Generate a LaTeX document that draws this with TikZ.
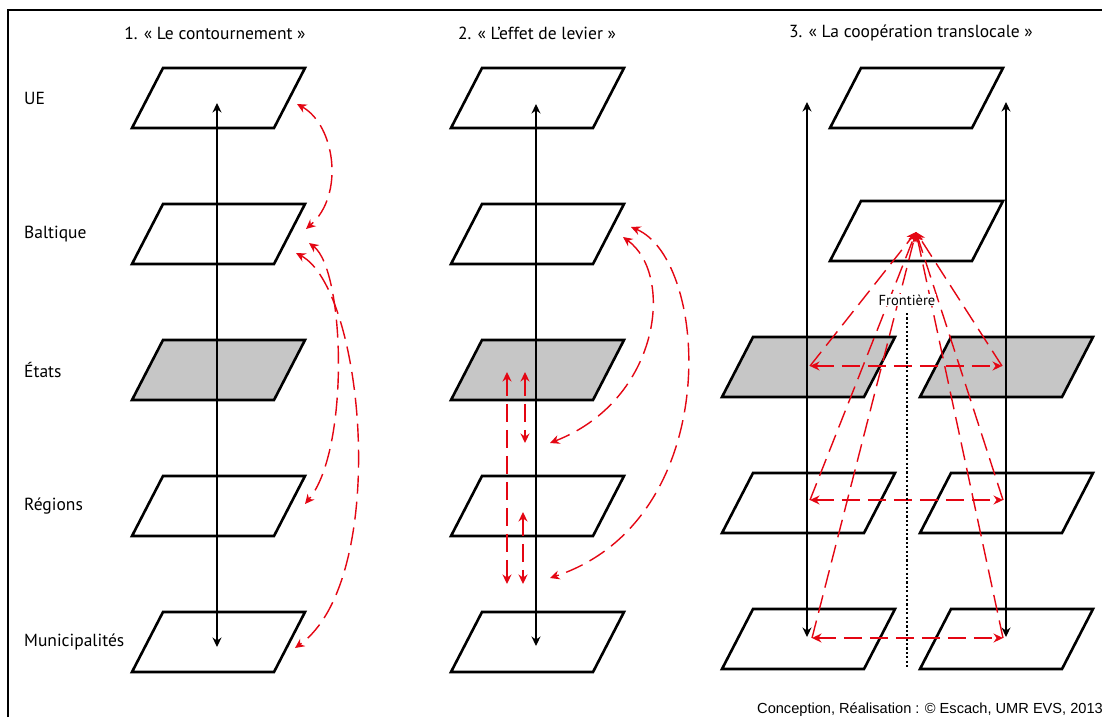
\documentclass[tikz,border=0pt]{standalone}
\usepackage{fontspec}
\setmainfont{PT Sans}
\newfontfamily\creditfont{Liberation Sans}
\usetikzlibrary{arrows.meta}
\definecolor{redc}{RGB}{228,6,19}
\definecolor{greyc}{RGB}{198,198,198}
\newcommand\lvlplane[4]{%
  \draw[plane,fill=#4] (#2,#3+60) -- (#2+31,#3) -- (#2+173,#3) -- (#2+142,#3+60) -- cycle;
  \coordinate (#1) at (#2+86.5,#3+30);}
\begin{document}
\begin{tikzpicture}[x=1pt,y=-1pt,
  >={Stealth[length=9.5pt,width=9pt]},
  plane/.style={draw=black,line width=2.6pt,line join=miter},
  axis/.style={draw=black,line width=1.2pt,<->},
  flow/.style={draw=redc,line width=1.4pt,dash pattern=on 18pt off 8pt},
  lab/.style={anchor=west,font=\fontsize{17.5}{20}\selectfont,inner sep=0pt},
  ttl/.style={font=\fontsize{17.5}{20}\selectfont,inner sep=0pt},
  credit/.style={anchor=base west,font=\creditfont\fontsize{14.6}{17}\selectfont,inner sep=0pt}]
\useasboundingbox (0,0) rectangle (1102,717);
\fill[white] (0,0) rectangle (1102,717);
% frame
\draw[line width=1.3pt] (8,717) -- (8,10) -- (1102,10);
% titles
\node[ttl] (t1) at (215,33) {1. « Le contournement »};
\node[ttl] (t2) at (537,33) {2. « L’effet de levier »};
\node[ttl] (t3) at (911,33) {3. « La coopération translocale »};
% level labels
\node[lab] (lUE) at (24,98) {UE};
\node[lab] (lBa) at (24,234) {Baltique};
\node[lab] (lEt) at (24,370) {États};
\node[lab] (lRe) at (24,506) {Régions};
\node[lab] (lMu) at (24,642) {Municipalités};
% panel 1
\lvlplane{a1}{132}{68}{white}
\lvlplane{a2}{132}{204}{white}
\lvlplane{a3}{132}{340}{greyc}
\lvlplane{a4}{132}{476}{white}
\lvlplane{a5}{132}{612}{white}
% panel 2
\lvlplane{b1}{451}{68}{white}
\lvlplane{b2}{451}{204}{white}
\lvlplane{b3}{451}{340}{greyc}
\lvlplane{b4}{451}{476}{white}
\lvlplane{b5}{451}{612}{white}
% panel 3
\lvlplane{c1}{830}{68}{white}
\lvlplane{c2}{830}{201}{white}
\lvlplane{c3l}{722}{337}{greyc}
\lvlplane{c3r}{920}{337}{greyc}
\lvlplane{c4l}{722}{473}{white}
\lvlplane{c4r}{920}{473}{white}
\lvlplane{c5l}{722}{609}{white}
\lvlplane{c5r}{920}{609}{white}
% axes
\coordinate (p1t) at (217,103); \coordinate (p1b) at (217,647);
\coordinate (p2t) at (536,104); \coordinate (p2b) at (536,646);
\coordinate (p3lt) at (807,102); \coordinate (p3lb) at (807,637);
\coordinate (p3rt) at (1006,102); \coordinate (p3rb) at (1006,637);
\draw[axis] (p1t) -- (p1b);
\draw[axis] (p2t) -- (p2b);
\draw[axis] (p3lt) -- (p3lb);
\draw[axis] (p3rt) -- (p3rb);
% panel 1 red arcs
\coordinate (r1a) at (297,104); \coordinate (r1b) at (306,229);
\coordinate (r2a) at (309,243); \coordinate (r2b) at (305,504);
\coordinate (r3a) at (296,253); \coordinate (r3b) at (295,648);
\draw[flow,<->] (r1a) .. controls (335,125) and (345,195) .. (r1b);
\draw[flow,<->] (r2a) .. controls (345,270) and (350,450) .. (r2b);
\draw[flow,<->] (r3a) .. controls (365,290) and (390,580) .. (r3b);
% panel 2 red arrows
\coordinate (s1a) at (507,372); \coordinate (s1b) at (507,584);
\coordinate (s2a) at (525,372); \coordinate (s2b) at (525,443);
\coordinate (s3a) at (523,512); \coordinate (s3b) at (523,584);
\coordinate (s4a) at (623,237); \coordinate (s4b) at (550,443);
\coordinate (s5a) at (631,227); \coordinate (s5b) at (550,578);
\draw[flow,<->] (s1a) -- (s1b);
\draw[flow,<->] (s2a) -- (s2b);
\draw[flow,<->] (s3a) -- (s3b);
\draw[flow,<->] (s4a) .. controls (675,275) and (660,400) .. (s4b);
\draw[flow,<->] (s5a) .. controls (710,260) and (725,520) .. (s5b);
% panel 3
\coordinate (hub) at (916,232);
\coordinate (e3l) at (810,366); \coordinate (e3r) at (1002,366);
\coordinate (e4l) at (810,500); \coordinate (e4r) at (1003,500);
\coordinate (e5l) at (812,638); \coordinate (e5r) at (1003,638);
\draw[flow,<->] (e3l) -- (e3r);
\draw[flow,<->] (e4l) -- (e4r);
\draw[flow,<->] (e5l) -- (e5r);
\foreach \e in {e3l,e4l,e5l,e3r,e4r,e5r}{\draw[flow,->] (\e) -- (hub);}
% border
\coordinate (fb1) at (907,313); \coordinate (fb2) at (907,668);
\draw[line width=2.6pt,dash pattern=on 2.2pt off 2.2pt] (fb1) -- (fb2);
\node[font=\fontsize{14.5}{17}\selectfont,inner sep=0.5pt,fill=white] (fr) at (907,300) {Frontière};
% credit
\node[credit] (cr) at (757,713) {Conception, Réalisation : © Escach, UMR EVS, 2013};
\end{tikzpicture}
\end{document}
